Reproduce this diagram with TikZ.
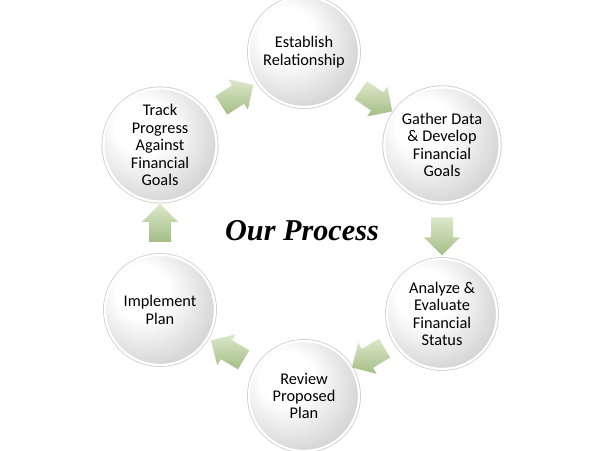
\documentclass[tikz,border=0pt]{standalone}
\usepackage{fontspec}
\setmainfont{Carlito}
\newfontfamily\titlefont{Liberation Serif}
\usetikzlibrary{shapes.arrows,shadows}

\definecolor{leafhi}{RGB}{220,232,202}
\definecolor{leaflo}{RGB}{164,190,134}
\pgfdeclareradialshading{pearl}{\pgfpoint{-10bp}{10bp}}{%
  color(0bp)=(white); color(12bp)=(white); color(32bp)=(black!17);
  color(50bp)=(black!36); color(66bp)=(black!50)}

\begin{document}
\begin{tikzpicture}[x=0.025cm, y=-0.025cm,
    stage/.style = {shape=circle, minimum size=2.75cm,
      shading=pearl, draw=white, line width=1.6pt, align=center,
      font=\fontsize{11.6}{12.4}\selectfont,
      general shadow={shadow scale=1.035, fill=black!32, opacity=0.6}},
    flow/.style = {shape=single arrow, sloped, allow upside down,
      minimum height=0.95cm, minimum width=0.9cm, inner sep=0.26cm,
      single arrow head extend=0.17cm,
      top color=leafhi, bottom color=leaflo, draw=none}]
    \useasboundingbox (0,0) rectangle (600,451);
    \node[stage] (establish) at (304,52)  {Establish\\Relationship};
    \node[stage] (gather)    at (442,145) {Gather Data\\\& Develop\\Financial\\Goals};
    \node[stage] (analyze)   at (442,314) {Analyze \&\\Evaluate\\Financial\\Status};
    \node[stage] (review)    at (304,396) {Review\\Proposed\\Plan};
    \node[stage] (implement) at (160,310) {Implement\\Plan};
    \node[stage] (track)     at (160,145) {Track\\Progress\\Against\\Financial\\Goals};
    \node[font=\titlefont\bfseries\itshape\fontsize{21.5}{24}\selectfont]
      (title) at (302,231) {Our Process};
    % arrows between the stages
    \path (establish) -- node[flow] (a1) {} (gather);
    \path (gather)    -- node[flow] (a2) {} (analyze);
    \path (analyze)   -- node[flow] (a3) {} (review);
    \path (review)    -- node[flow] (a4) {} (implement);
    \path (implement) -- node[flow] (a5) {} (track);
    \path (track)     -- node[flow] (a6) {} (establish);
\end{tikzpicture}
\end{document}
